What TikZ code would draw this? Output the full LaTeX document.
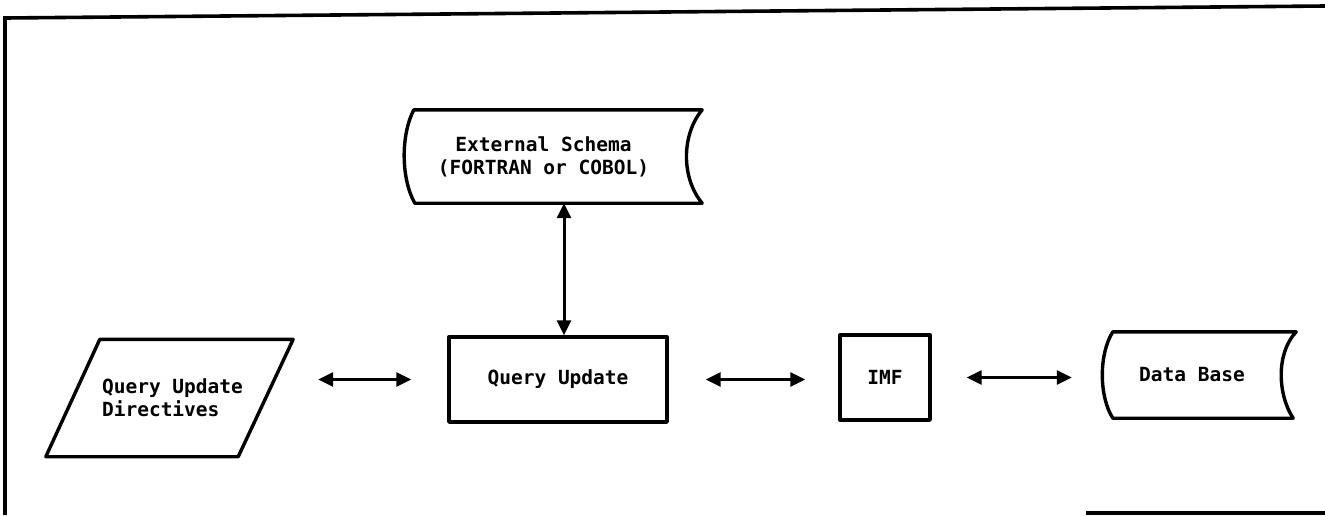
\documentclass[tikz,border=0pt]{standalone}
\usepackage{fontspec}
\setmonofont{DejaVu Sans Mono}
\usetikzlibrary{calc,arrows.meta}
\begin{document}
\begin{tikzpicture}[x=1pt,y=-1pt,
  shapeline/.style={line width=3.4pt, line join=round},
  frameline/.style={line width=3.6pt},
  txt/.style={font=\ttfamily\bfseries\fontsize{19.5}{24}\selectfont, inner sep=0pt},
  holder/.style={txt, draw=none},
  biarrow/.style={line width=3pt,
    {Triangle[length=15pt,width=14pt]}-{Triangle[length=15pt,width=14pt]}},
]
% page extent
\useasboundingbox (0,0) rectangle (1325,515);

% frame
\draw[frameline] (5,515) -- (5,18) -- (1325,6);
\draw[frameline] (1086,513) -- (1325,513);

% input directives (parallelogram)
\node[holder, minimum width=247pt, minimum height=117pt, align=left] (qd) at (169.5,398)
  {\hspace*{6pt}Query Update\\[-1pt]\hspace*{6pt}Directives};
\draw[shapeline] ($(qd.north west)+(54,0)$) -- (qd.north east)
  -- ($(qd.south east)+(-55,0)$) -- (qd.south west) -- cycle;

% query update processor
\node[txt, draw, shapeline, minimum width=218pt, minimum height=85pt] (qu) at (558,379.5) {Query Update};

% interface module
\node[txt, draw, shapeline, minimum width=90pt, minimum height=85pt] (imf) at (885,377.5) {IMF};

% external schema (stored data)
\node[holder, minimum width=299pt, minimum height=93pt, align=center] (es) at (552.5,156.5)
  {\hspace*{-18pt}External Schema\\[-1pt]\hspace*{-18pt}(FORTRAN or COBOL)};
\draw[shapeline] ($(es.north west)+(11,0)$) -- (es.north east)
  .. controls ($(es.north east)+(-21,25)$) and ($(es.south east)+(-21,-25)$) .. (es.south east)
  -- ($(es.south west)+(12,0)$)
  .. controls ($(es.south west)+(-2,-25)$) and ($(es.north west)+(-2,25)$) .. ($(es.north west)+(11,0)$)
  -- cycle;

% data base (stored data)
\node[holder, minimum width=194pt, minimum height=86pt] (db) at (1199,375) {\hspace*{-14pt}Data Base};
\draw[shapeline] ($(db.north west)+(11,0)$) -- (db.north east)
  .. controls ($(db.north east)+(-21,22)$) and ($(db.south east)+(-18,-22)$) .. ($(db.south east)+(-3,0)$)
  -- ($(db.south west)+(11,0)$)
  .. controls ($(db.south west)+(-3,-22)$) and ($(db.north west)+(-3,22)$) .. ($(db.north west)+(11,0)$)
  -- cycle;

% connectors
\draw[biarrow] ([xshift=6pt]qu.north) -- ([xshift=6pt]qu.north |- es.south);
\draw[biarrow, shorten <=25pt, shorten >=36pt] (qd.east |- qu.west) -- (qu.west);
\draw[biarrow, shorten <=37pt, shorten >=33pt] (qu.east) -- (qu.east -| imf.west);
\draw[biarrow, shorten <=35pt, shorten >=30pt] (imf.east) -- (imf.east -| db.west);
\end{tikzpicture}
\end{document}
